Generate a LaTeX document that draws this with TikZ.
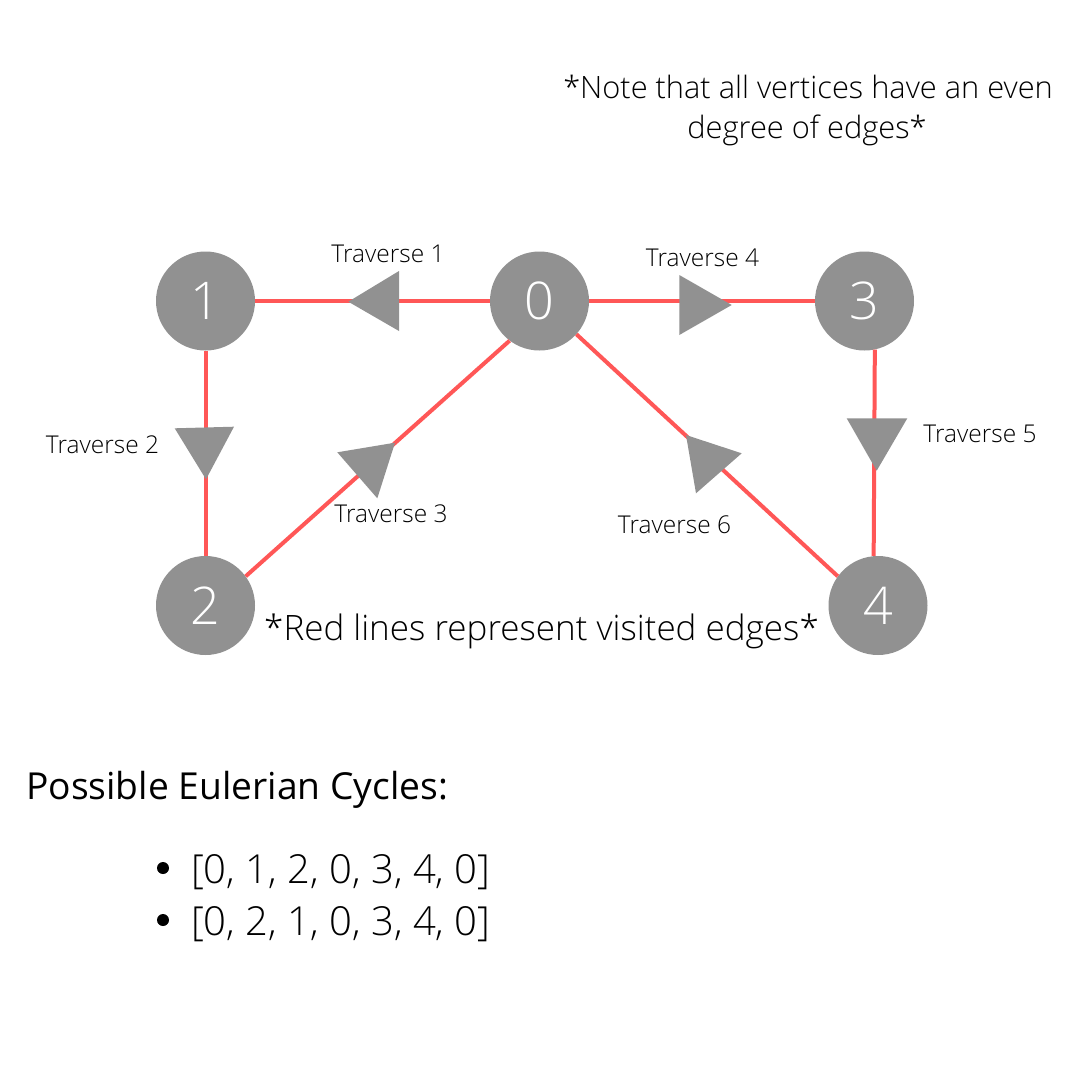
\documentclass[tikz,border=0pt]{standalone}
\usepackage{fontspec}
\setmainfont{Open Sans}[UprightFont={* Light}]
\newfontfamily\regfont{Open Sans}
\definecolor{edgered}{HTML}{FF5757}
\definecolor{vgray}{HTML}{919191}
\tikzset{
  vertex/.style={circle, fill=vgray, minimum size=99pt, inner sep=0pt, text=white, font=\fontsize{52}{52}\selectfont},
  edgeline/.style={draw=edgered, line width=4pt},
  tri/.style={fill=vgray},
  trav/.style={anchor=base, inner sep=0pt, font=\fontsize{24.5}{24.5}\selectfont},
  note/.style={anchor=base, inner sep=0pt, font=\fontsize{30.8}{30.8}\selectfont},
  bigtxt/.style={anchor=base, inner sep=0pt, font=\fontsize{40}{40}\selectfont},
}
\begin{document}
\begin{tikzpicture}[x=1pt,y=-1pt]
\useasboundingbox (0,0) rectangle (1080,1080);
\fill[white] (0,0) rectangle (1080,1080);

% vertices
\node[vertex] (n1) at (205.5,301) {1};
\node[vertex] (n0) at (539.5,301) {0};
\node[vertex] (n3) at (864.5,301) {3};
\node[vertex] (n2) at (205.5,605.5) {2};
\node[vertex] (n4) at (878,605.5) {4};

% edges
\draw[edgeline] (n0) -- (n1);
\draw[edgeline] (n0) -- (n3);
\draw[edgeline] (n1) -- (n2);
\draw[edgeline] (n3.-78) -- (n4.95);
\draw[edgeline] (n2.36) -- (n0.233);
\draw[edgeline] (n4.144) -- (n0.318);

% direction markers
\fill[tri] (399,271) -- (348.3,301.7) -- (399,331) -- cycle;
\fill[tri] (174.7,428.3) -- (234,426.7) -- (206,479.3) -- cycle;
\fill[tri] (337.3,452.3) -- (395,442.7) -- (377.3,498.3) -- cycle;
\fill[tri] (679.3,275) -- (731.7,305) -- (679.3,335) -- cycle;
\fill[tri] (846.7,418.3) -- (907.3,418.3) -- (876.7,470.7) -- cycle;
\fill[tri] (686,435) -- (741.7,453.3) -- (696,493.3) -- cycle;

% traverse labels
\node[trav] (t1) at (388,262.3) {Traverse 1};
\node[trav] (t4) at (702.5,266) {Traverse 4};
\node[trav] (t2) at (102.5,453) {Traverse 2};
\node[trav] (t5) at (980,442) {Traverse 5};
\node[trav] (t3) at (391,522) {Traverse 3};
\node[trav] (t6) at (674.5,533.5) {Traverse 6};

% notes
\node[note] (note1) at (808,98.3) {*Note that all vertices have an even};
\node[note] (note2) at (807,138.3) {degree of edges*};
\node[anchor=base, inner sep=0pt, font=\fontsize{35}{35}\selectfont] (red) at (541.5,640) {*Red lines represent visited edges*};

% cycles
\node[anchor=base west, inner sep=0pt, font=\regfont\fontsize{37.2}{37.2}\selectfont] (title) at (26,799) {Possible Eulerian Cycles:};
\fill[black] (163,868) circle (6);
\fill[black] (163,920) circle (6);
\node[bigtxt, anchor=base west] (c1) at (191,883) {[0, 1, 2, 0, 3, 4, 0]};
\node[bigtxt, anchor=base west] (c2) at (191,935) {[0, 2, 1, 0, 3, 4, 0]};
\end{tikzpicture}
\end{document}
